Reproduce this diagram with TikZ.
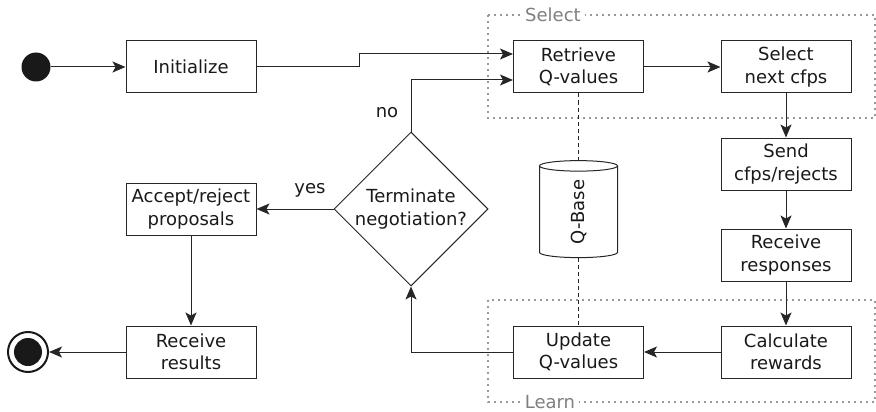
\documentclass[tikz,border=0pt]{standalone}
\usepackage{fontspec}
\setmainfont{DejaVu Sans}
\usepackage{tikz}
\usetikzlibrary{arrows.meta}
\usetikzlibrary{shapes.geometric}

\begin{document}
\begin{tikzpicture}[
        x=1pt,y=-1pt,
        every node/.style={font=\fontsize{18}{22.5}\selectfont,text=black!90},
        activity/.style={draw=black!85,line width=1pt,minimum width=130pt,
                         minimum height=52pt,inner sep=0pt,align=center},
        flow/.style={draw=black!85,line width=1pt,
                     -{Stealth[length=13pt,width=11pt,inset=3pt]}},
        link/.style={draw=black!85,line width=1pt,dash pattern=on 4pt off 3pt},
        group/.style={draw=gray!80,line width=2pt,dash pattern=on 2pt off 4pt},
        grouplabel/.style={text=gray,fill=white,inner sep=4pt},
      ]
      \useasboundingbox (0,0) rectangle (876,412);
      % Groups (drawn first, boxes cover them)
      \draw[group] (488,15) rectangle (875,118);
      \draw[group] (488,300) rectangle (875,402);
      \node[grouplabel] (selectlabel) at (553,15) {Select};
      \node[grouplabel] (learnlabel) at (550,402) {Learn};
      % Start and end
      \node[circle,fill=black!90,minimum size=29pt,inner sep=0pt] (start) at (36,67) {};
      \node[circle,draw=black!90,line width=2pt,minimum size=40pt,inner sep=0pt] (stop) at (28,352) {};
      \node[circle,fill=black!90,minimum size=28pt,inner sep=0pt] at (stop) {};
      % Activities
      \node[activity] (init) at (191,67) {Initialize};
      \node[activity] (retrieve) at (578.5,67) {Retrieve\\Q-values};
      \node[activity] (select) at (786,67) {Select\\next cfps};
      \node[activity] (send) at (786,164) {Send\\cfps/rejects};
      \node[activity] (receive) at (786,255) {Receive\\responses};
      \node[activity] (calc) at (786,352) {Calculate\\rewards};
      \node[activity] (update) at (578.5,352) {Update\\Q-values};
      \node[activity] (accept) at (191,209) {Accept/reject\\proposals};
      \node[activity] (results) at (191,352) {Receive\\results};
      \node[diamond,draw=black!85,line width=1pt,minimum width=154pt,minimum height=154pt,
            inner sep=0pt,align=center] (decide) at (411,209) {Terminate\\negotiation?};
      \node[cylinder,draw=black!85,line width=1pt,rotate=90,minimum width=78pt,
            minimum height=97pt,aspect=0.67,inner sep=0pt] (qbase) at (578.5,212) {Q-Base};
      % Flows
      \draw[flow] (start) -- (init);
      \draw[flow] (init.east) -- ++(103,0) |- ([yshift=13pt]retrieve.west);
      \draw[flow] (retrieve) -- (select);
      \foreach \a/\b in {select/send,send/receive,receive/calc}
        \draw[flow] (\a) -- (\b);
      \draw[flow] (calc) -- (update);
      \draw[flow] (update.west) -| (decide.south);
      \draw[flow] (decide.north) |- ([yshift=-13pt]retrieve.west);
      \draw[flow] (decide.west) -- (accept.east);
      \draw[flow] (accept) -- (results);
      \draw[flow] (results) -- (stop);
      \draw[link] (retrieve.south) -- (qbase.top);
      \draw[link] (qbase.bottom) -- (update.north);
      % Guards
      \node (no) at (387,113) {no};
      \node (yes) at (310,190) {yes};
    \end{tikzpicture}
\end{document}
